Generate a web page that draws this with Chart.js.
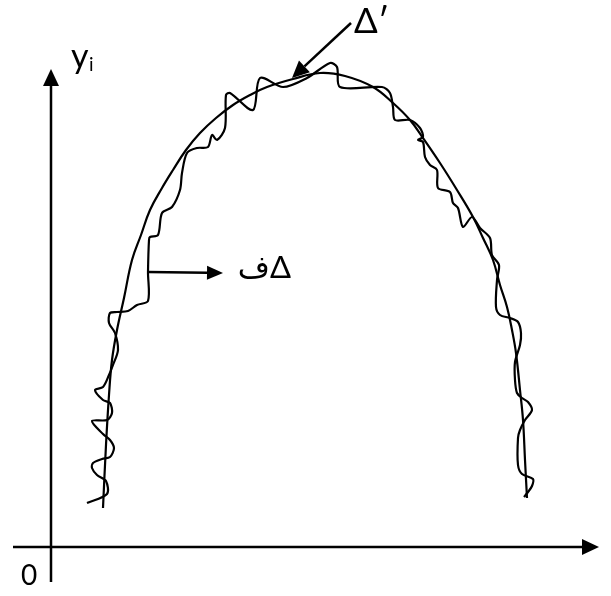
<!DOCTYPE html>
<html>
<head>
<meta charset="utf-8">
<script src="https://cdn.jsdelivr.net/npm/chart.js@4/dist/chart.umd.min.js"></script>
<style>
  html, body { margin: 0; padding: 0; background: #fff; }
  #wrap { width: 611px; height: 596px; }
</style>
</head>
<body>
<div id="wrap"><canvas id="myChart"></canvas></div>
<script>
var smoothX = [52, 55, 58, 61, 66, 73, 81, 90, 99, 111, 122, 135, 149, 165, 182, 199, 216, 242, 269,
               294, 322, 342, 359, 372, 389, 406, 422, 432, 442, 449, 456, 461, 465, 469, 472, 474, 476];
var smoothY = [39, 102, 152, 187, 217, 249, 287, 312, 337, 359, 377, 397, 414, 429, 442, 452, 460, 468, 474,
               471, 460, 444, 427, 409, 384, 357, 330, 309, 287, 262, 240, 217, 194, 157, 127, 87, 49];

// jagged curve (Δف)
var roughX = [36, 56, 55, 46, 41, 42, 51, 59, 63, 59, 52, 41, 56, 61, 59, 52, 44, 52, 58, 62,
              67, 64, 58, 59, 66, 77, 86, 97, 97, 98, 99, 107, 111, 121, 129, 131, 136, 146, 157, 161,
              166, 174, 175, 179, 202, 209, 232, 256, 279, 286, 289, 331, 339, 342, 344, 359, 369, 372, 367, 372,
              374, 379, 386, 387, 399, 402, 407, 412, 421, 429, 439, 441, 448, 446, 445, 449, 459, 467, 470, 469,
              464, 464, 466, 471, 477, 481, 474, 469, 467, 467, 471, 482, 481, 477, 473];
var roughY = [44, 53, 66, 72, 79, 84, 88, 90, 99, 107, 113, 126, 127, 134, 144, 147, 157, 160, 172, 182,
              197, 214, 224, 234, 235, 236, 242, 246, 275, 307, 310, 312, 334, 340, 357, 374, 394, 399, 400, 412,
              407, 419, 452, 454, 437, 469, 460, 469, 484, 480, 460, 460, 454, 440, 427, 427, 419, 410, 407, 405,
              390, 382, 377, 359, 355, 344, 339, 320, 330, 319, 309, 292, 282, 267, 240, 232, 229, 225, 214, 202,
              185, 167, 154, 149, 145, 137, 127, 117, 109, 82, 73, 68, 61, 55, 50];

var xRange = [-51, 560];
var yRange = [-49, 547];

function toPoints(xs, ys) {
  return xs.map(function (x, i) { return { x: x, y: ys[i] }; });
}

function arrow(ctx, x1, y1, x2, y2, len, half) {
  var a = Math.atan2(y2 - y1, x2 - x1);
  var bx = x2 - len * Math.cos(a), by = y2 - len * Math.sin(a);
  ctx.beginPath();
  ctx.moveTo(x1, y1);
  ctx.lineTo(bx, by);
  ctx.stroke();
  ctx.beginPath();
  ctx.moveTo(x2, y2);
  ctx.lineTo(bx + half * Math.sin(a), by - half * Math.cos(a));
  ctx.lineTo(bx - half * Math.sin(a), by + half * Math.cos(a));
  ctx.closePath();
  ctx.fill();
}

// axes, arrows and labels drawn on top of the scales
const sketch = {
  id: 'sketch',
  afterDatasetsDraw(chart) {
    var ctx = chart.ctx;
    var sx = chart.scales.x, sy = chart.scales.y;
    var px = function (v) { return sx.getPixelForValue(v); };
    var py = function (v) { return sy.getPixelForValue(v); };
    ctx.save();
    ctx.strokeStyle = '#000';
    ctx.fillStyle = '#000';
    ctx.lineWidth = 2.5;
    ctx.lineCap = 'butt';

    arrow(ctx, px(-38), py(0), px(548), py(0), 17, 8);
    arrow(ctx, px(0), py(-35), px(0), py(478), 17, 8);

    arrow(ctx, px(300), py(524), px(241), py(469), 17, 8);
    arrow(ctx, px(97), py(275), px(172), py(274), 16, 7);

    ctx.textBaseline = 'alphabetic';
    ctx.textAlign = 'left';
    ctx.font = '28px Lato, "DejaVu Sans", sans-serif';
    ctx.fillText('0', px(-30), py(-38));

    ctx.font = '34px Lato, "DejaVu Sans", sans-serif';
    ctx.fillText('y', px(20), py(479));
    ctx.font = '19px Lato, "DejaVu Sans", sans-serif';
    ctx.fillText('i', px(38), py(476));

    ctx.font = '35px Lato, "DejaVu Sans", sans-serif';
    ctx.fillText('Δ′', px(303), py(514));

    ctx.textAlign = 'right';
    ctx.font = '31px Lato, "DejaVu Sans", sans-serif';
    ctx.fillText('فΔ', px(240), py(269));
    ctx.restore();
  }
};

const data = {
  datasets: [{
    label: 'smooth',
    data: toPoints(smoothX, smoothY),
    showLine: true,
    borderColor: '#000',
    borderWidth: 2.2,
    pointRadius: 0,
    tension: 0.4
  }, {
    label: 'rough',
    data: toPoints(roughX, roughY),
    showLine: true,
    borderColor: '#000',
    borderWidth: 2.2,
    pointRadius: 0,
    tension: 0.3
  }]
};

var myChart = new Chart(document.getElementById('myChart'), {
  type: 'scatter',
  data: data,
  options: {
    responsive: true,
    maintainAspectRatio: false,
    animation: false,
    layout: { padding: 0 },
    plugins: { legend: { display: false }, tooltip: { enabled: false } },
    scales: {
      x: { type: 'linear', display: false, min: xRange[0], max: xRange[1] },
      y: { type: 'linear', display: false, min: yRange[0], max: yRange[1] }
    }
  },
  plugins: [sketch]
});
</script>
</body>
</html>
